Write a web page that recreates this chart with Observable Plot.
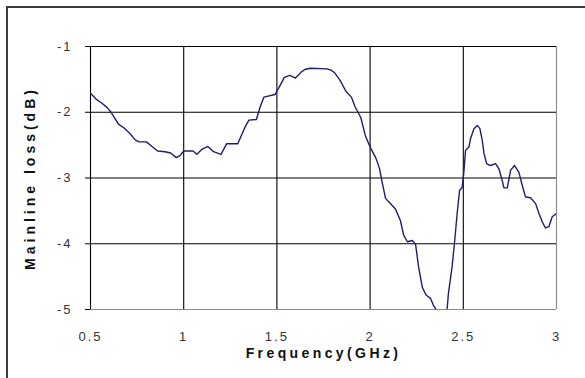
<!DOCTYPE html>
<html><head><meta charset="utf-8">
<script src="https://cdn.jsdelivr.net/npm/d3@7"></script>
<script src="https://cdn.jsdelivr.net/npm/@observablehq/plot@0.6"></script>
<style>
body{margin:0;background:#fff;}
#wrap{position:relative;width:585px;height:378px;overflow:hidden;}
#frame{position:absolute;left:6px;top:6px;width:600px;height:400px;border-left:2px solid #3c3c3c;border-top:2px solid #3c3c3c;pointer-events:none;}
svg g[aria-label="x-axis tick label"] text, svg g[aria-label="y-axis tick label"] text{letter-spacing:2px;}
</style></head><body><div id="wrap"><div id="frame"></div></div>
<script>
const freq = [0.50,0.53,0.56,0.59,0.61,0.63,0.65,0.68,0.71,0.74,0.76,0.80,0.83,0.86,0.90,0.93,0.96,0.98,1.00,1.05,1.07,1.10,1.13,1.16,1.20,1.23,1.29,1.31,1.33,1.35,1.39,1.41,1.43,1.49,1.51,1.54,1.57,1.60,1.63,1.65,1.68,1.77,1.79,1.81,1.84,1.87,1.90,1.92,1.95,1.975,2.00,2.03,2.05,2.065,2.083,2.11,2.136,2.163,2.18,2.20,2.226,2.244,2.26,2.28,2.30,2.324,2.34,2.36,2.38,2.40,2.413,2.42,2.44,2.455,2.467,2.48,2.494,2.503,2.512,2.53,2.539,2.557,2.575,2.589,2.602,2.611,2.625,2.646,2.673,2.691,2.709,2.718,2.736,2.754,2.775,2.798,2.816,2.834,2.861,2.888,2.906,2.924,2.941,2.959,2.977,3.00];
const loss = [-1.71,-1.80,-1.86,-1.93,-2.00,-2.09,-2.18,-2.24,-2.32,-2.42,-2.45,-2.45,-2.52,-2.59,-2.60,-2.62,-2.69,-2.66,-2.59,-2.59,-2.64,-2.56,-2.52,-2.60,-2.64,-2.48,-2.48,-2.35,-2.22,-2.12,-2.11,-1.92,-1.77,-1.73,-1.63,-1.47,-1.44,-1.48,-1.39,-1.35,-1.33,-1.34,-1.36,-1.40,-1.52,-1.68,-1.77,-1.92,-2.08,-2.36,-2.53,-2.69,-2.85,-3.07,-3.31,-3.39,-3.47,-3.65,-3.87,-3.97,-3.95,-4.01,-4.35,-4.66,-4.78,-4.83,-4.94,-5.02,-5.20,-5.15,-5.00,-4.76,-4.35,-3.92,-3.54,-3.19,-3.14,-2.91,-2.58,-2.53,-2.40,-2.25,-2.20,-2.25,-2.43,-2.63,-2.78,-2.81,-2.78,-2.86,-3.04,-3.15,-3.15,-2.88,-2.81,-2.91,-3.11,-3.29,-3.30,-3.39,-3.54,-3.67,-3.76,-3.74,-3.59,-3.54];
const xTicks = [0.5,1,1.5,2,2.5,3];
const xTickLabels = ["0.5","1","1.5","2","2.5","3"];
const yTicks = [-1,-2,-3,-4,-5];
const yTickLabels = ["-1","-2","-3","-4","-5"];
const xTitle = "Frequency(GHz)";
const yTitle = "Mainline loss(dB)";

const data = freq.map((f, i) => ({f, v: loss[i]}));
const font = "'Liberation Sans', Arial, sans-serif";

const chart = Plot.plot({
  width: 585, height: 378,
  marginLeft: 90, marginRight: 29, marginTop: 46, marginBottom: 69,
  style: {fontFamily: font, background: "transparent", overflow: "visible"},
  x: {domain: [0.5, 3]},
  y: {domain: [-5, -1]},
  marks: [
    Plot.ruleX(xTicks.slice(0, -1), {stroke: "#000", strokeWidth: 1.1}),
    Plot.ruleX(xTicks.slice(-1), {stroke: "#8a8a8a", strokeWidth: 1.1}),
    Plot.ruleY(yTicks.slice(0, -1), {stroke: "#000", strokeWidth: 1.1}),
    Plot.ruleY(yTicks.slice(-1), {stroke: "#8a8a8a", strokeWidth: 1.1}),
    Plot.axisY({ticks: yTicks, tickSize: 5, tickPadding: 13, fontSize: 13, label: null,
      tickFormat: d => yTickLabels[yTicks.indexOf(d)], fill: "#333", stroke: "#000"}),
    Plot.axisX({ticks: xTicks, tickSize: 0, tickPadding: 22, fontSize: 13, label: null,
      tickFormat: d => xTickLabels[xTicks.indexOf(d)], fill: "#333"}),
    Plot.line(data, {x: "f", y: "v", stroke: "#1e1e70", strokeWidth: 1.4, clip: true}),
    Plot.text([xTitle], {text: d => d, frameAnchor: "bottom", dy: 48, fontSize: 14, fontWeight: "bold", fill: "#111"}),
    Plot.text([yTitle], {text: d => d, frameAnchor: "left", textAnchor: "middle", dx: -60, rotate: -90, fontSize: 14, fontWeight: "bold", fill: "#111"})
  ]
});
d3.select(chart).selectAll("text").filter(function(){ return this.textContent === xTitle; }).attr("letter-spacing", "3.4px");
d3.select(chart).selectAll("text").filter(function(){ return this.textContent === yTitle; }).attr("letter-spacing", "4px");
document.getElementById("wrap").prepend(chart);
</script></body></html>
